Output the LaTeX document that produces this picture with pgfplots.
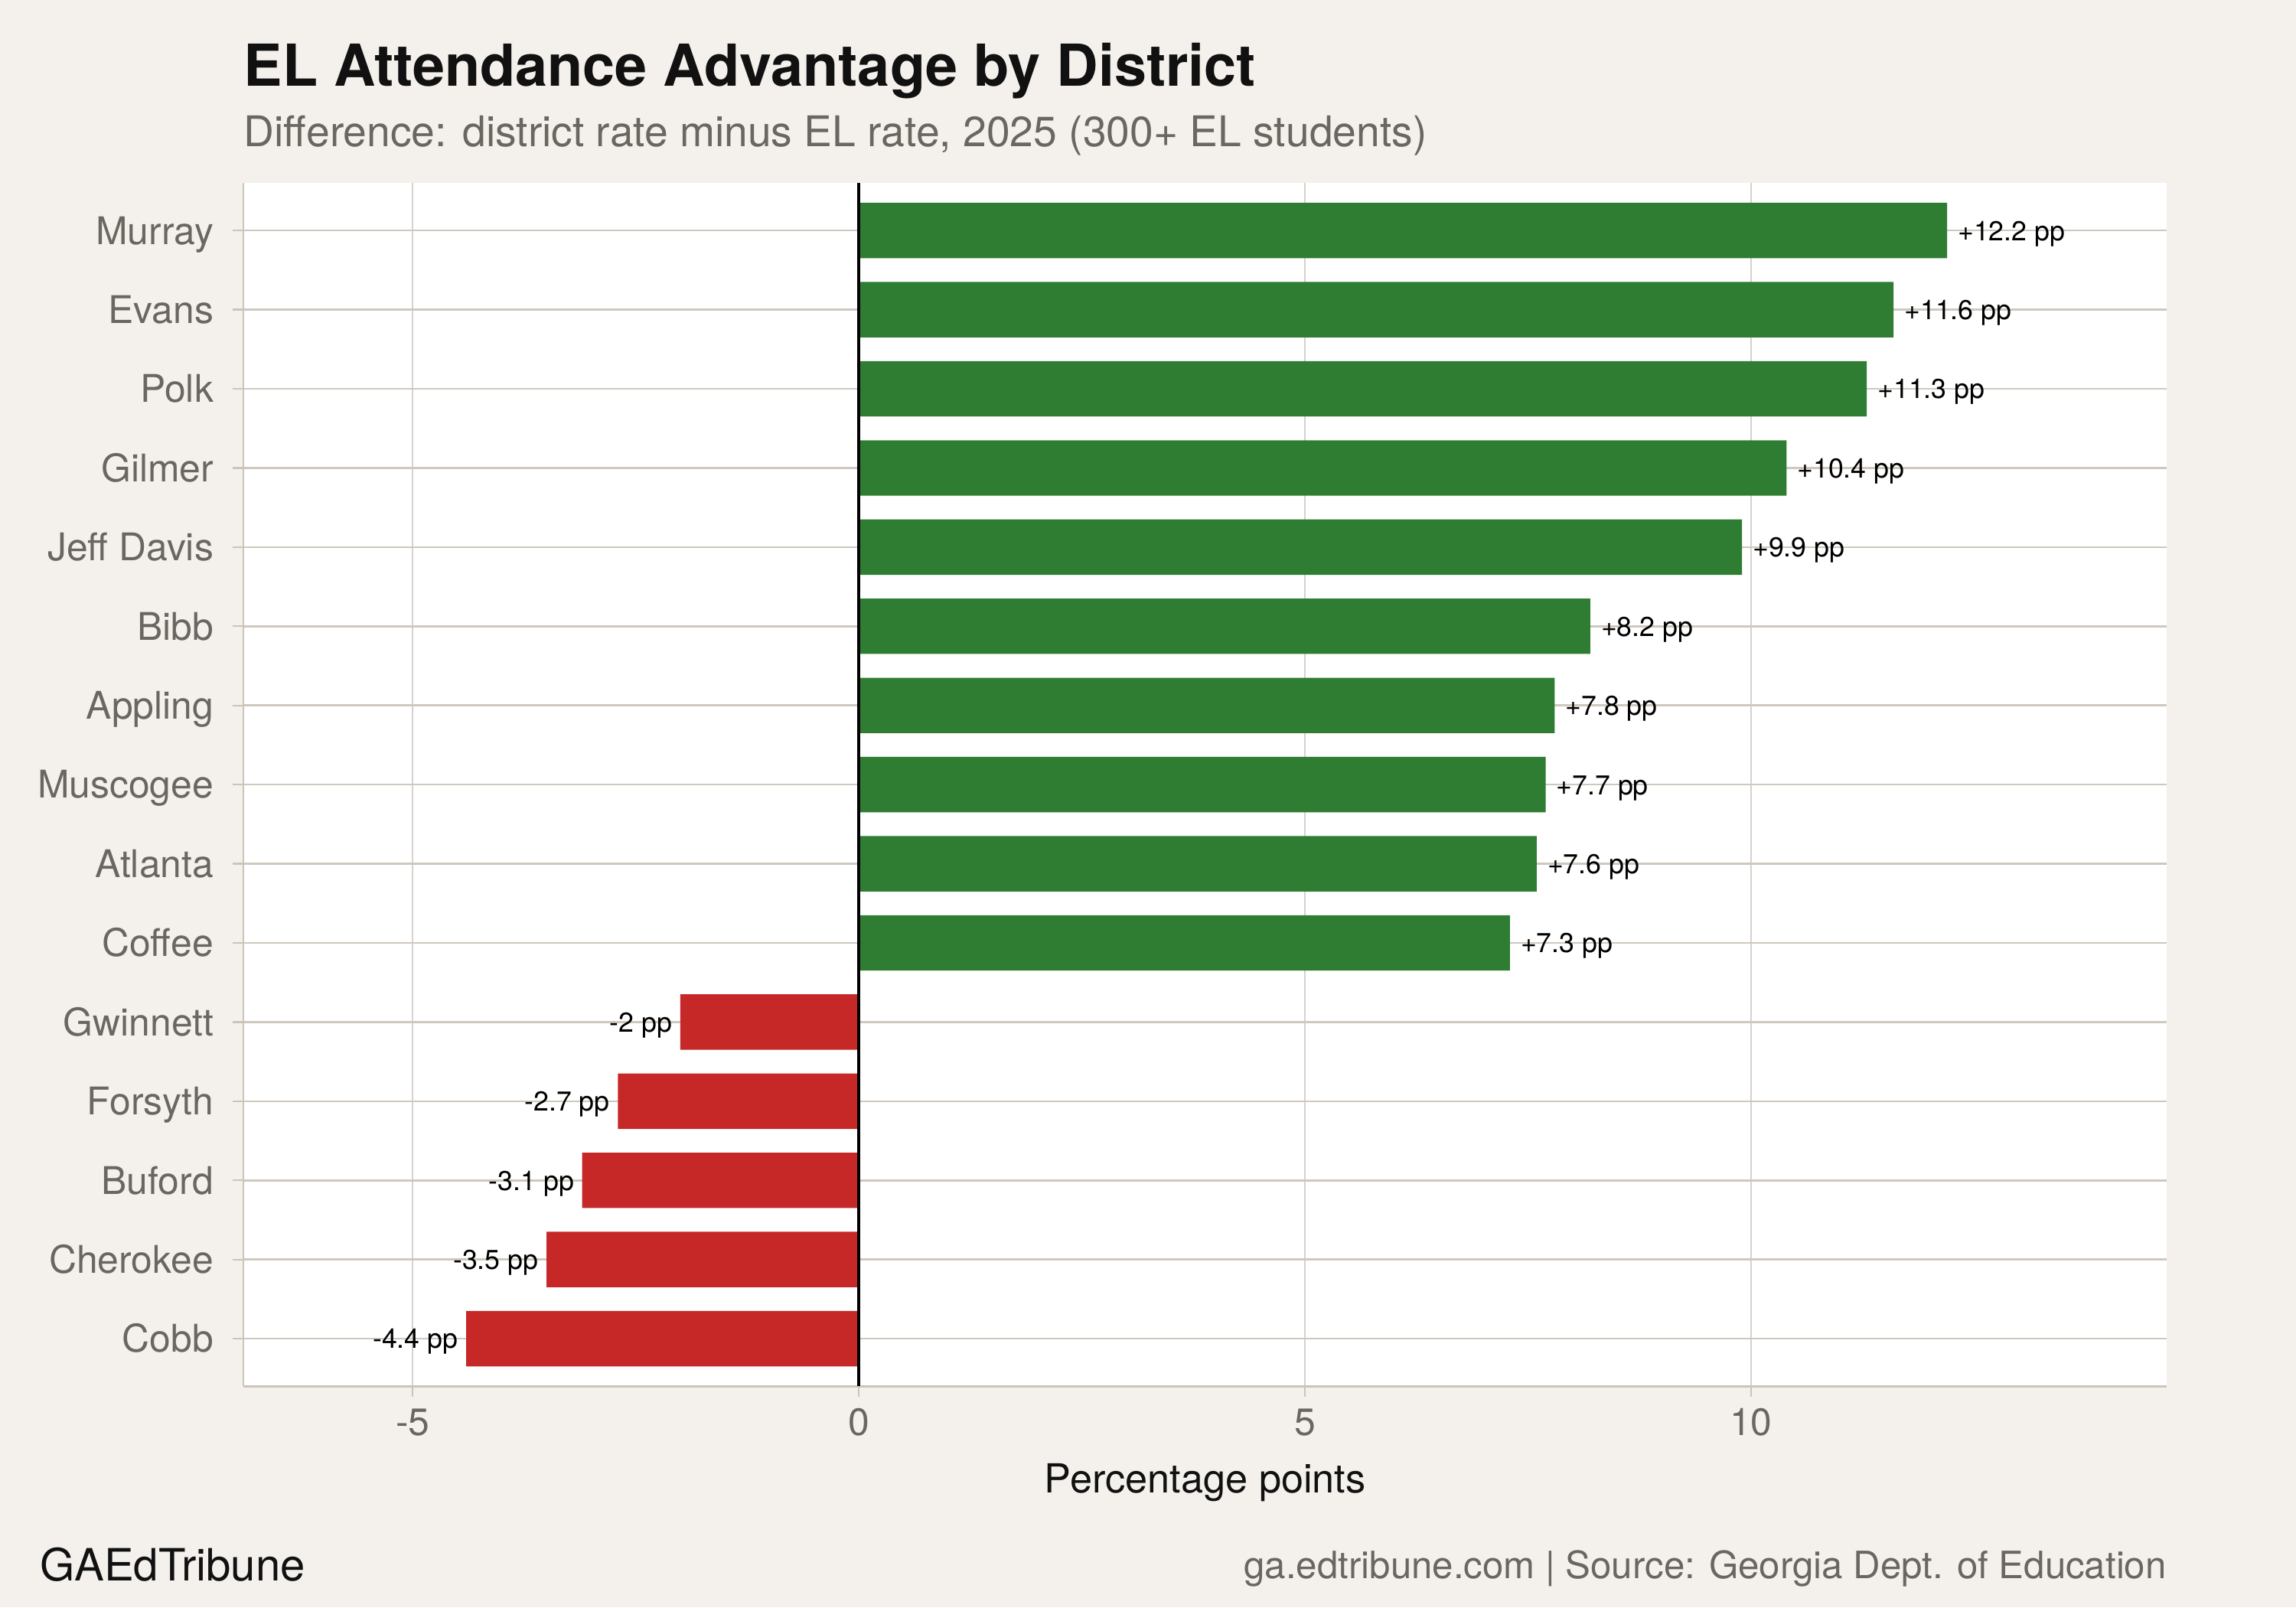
\documentclass[border=0pt]{standalone}
\usepackage{pgfplots}
\pgfplotsset{compat=1.18}
\usepackage{fontspec}
\setmainfont{TeX Gyre Heros}

\definecolor{bg}{HTML}{F4F1EC}
\definecolor{posgreen}{HTML}{2E7D32}
\definecolor{negred}{HTML}{C62828}
\definecolor{hgrid}{HTML}{CFC8BE}
\definecolor{vgrid}{HTML}{D6D2CC}
\definecolor{axisc}{HTML}{CBC4B9}
\definecolor{tickl}{HTML}{6B6660}
\definecolor{titlec}{HTML}{111111}

\begin{document}
\begin{tikzpicture}[x=1pt,y=1pt]
% page background
\fill[bg] (0,0) rectangle (722.7,-505.9);
\useasboundingbox (0,0) rectangle (722.7,-505.9);

% title block
\node[anchor=base west, inner sep=0pt, text=titlec, font=\fontsize{18.2}{22}\selectfont\bfseries]
  at (76.6,-27.2) {EL Attendance Advantage by District};
\node[anchor=base west, inner sep=0pt, text=tickl, font=\fontsize{13.3}{16}\selectfont]
  at (76.6,-46.2) {Difference: district rate minus EL rate, 2025 (300+ EL students)};

\begin{axis}[
  at={(76.6pt,-57.6pt)}, anchor=north west,
  scale only axis, width=605.5pt, height=378.7pt,
  xmin=-6.898, xmax=14.665, ymin=-0.6, ymax=14.6,
  y dir=reverse,
  axis background/.style={fill=white},
  xtick={-5,0,5,10}, xticklabels={-5,0,5,10},
  ytick={0,1,...,14},
  yticklabels={Murray,Evans,Polk,Gilmer,Jeff Davis,Bibb,Appling,Muscogee,Atlanta,Coffee,Gwinnett,Forsyth,Buford,Cherokee,Cobb},
  axis x line*=bottom, axis y line*=left,
  axis line style={-, draw=axisc, line width=0.7pt},
  every outer x axis line/.append style={-},
  every outer y axis line/.append style={-},
  tick align=outside,
  major tick length=3.4pt,
  tick style={draw=axisc, line width=0.55pt},
  grid=major,
  major x grid style={draw=vgrid, line width=0.5pt},
  major y grid style={draw=hgrid, line width=0.6pt},
  ticklabel style={font=\fontsize{12}{14}\selectfont, text=tickl, inner sep=0pt},
  xticklabel style={anchor=base, yshift=-12pt},
  yticklabel style={anchor=base east, yshift=-4.3pt, xshift=-5.8pt},
  xlabel={Percentage points},
  xlabel style={at={(axis description cs:0.5,0)}, anchor=base, inner sep=0pt,
    yshift=-33.5pt, font=\fontsize{12.6}{15}\selectfont, text=titlec},
  clip=false,
]
% districts where the EL rate trails the district rate
\addplot[xbar, bar width=0.7, bar shift=0pt, fill=posgreen, draw=none,
  point meta=explicit symbolic, nodes near coords,
  nodes near coords style={anchor=base west, inner sep=0pt, xshift=3.2pt, yshift=-3.1pt,
    font=\fontsize{8.6}{10}\selectfont, text=black}]
  coordinates {
    (12.2,0) [+12.2 pp]
    (11.6,1) [+11.6 pp]
    (11.3,2) [+11.3 pp]
    (10.4,3) [+10.4 pp]
    (9.9,4)  [+9.9 pp]
    (8.2,5)  [+8.2 pp]
    (7.8,6)  [+7.8 pp]
    (7.7,7)  [+7.7 pp]
    (7.6,8)  [+7.6 pp]
    (7.3,9)  [+7.3 pp]
  };
% districts where EL students attend more
\addplot[xbar, bar width=0.7, bar shift=0pt, fill=negred, draw=none,
  point meta=explicit symbolic, nodes near coords,
  nodes near coords style={anchor=base east, inner sep=0pt, xshift=-2.4pt, yshift=-3.1pt,
    font=\fontsize{8.6}{10}\selectfont, text=black}]
  coordinates {
    (-2.0,10) [-2 pp]
    (-2.7,11) [-2.7 pp]
    (-3.1,12) [-3.1 pp]
    (-3.5,13) [-3.5 pp]
    (-4.4,14) [-4.4 pp]
  };
% zero reference line
\addplot[black, line width=1pt, forget plot] coordinates {(0,-0.6) (0,14.6)};
\end{axis}

% footer
\node[anchor=base west, inner sep=0pt, text=titlec, font=\fontsize{14}{17}\selectfont]
  at (12.4,-497.5) {GAEdTribune};
\node[anchor=base east, inner sep=0pt, text=tickl, font=\fontsize{11.85}{14}\selectfont]
  at (682.1,-496.8) {ga.edtribune.com | Source: Georgia Dept. of Education};
\end{tikzpicture}
\end{document}
